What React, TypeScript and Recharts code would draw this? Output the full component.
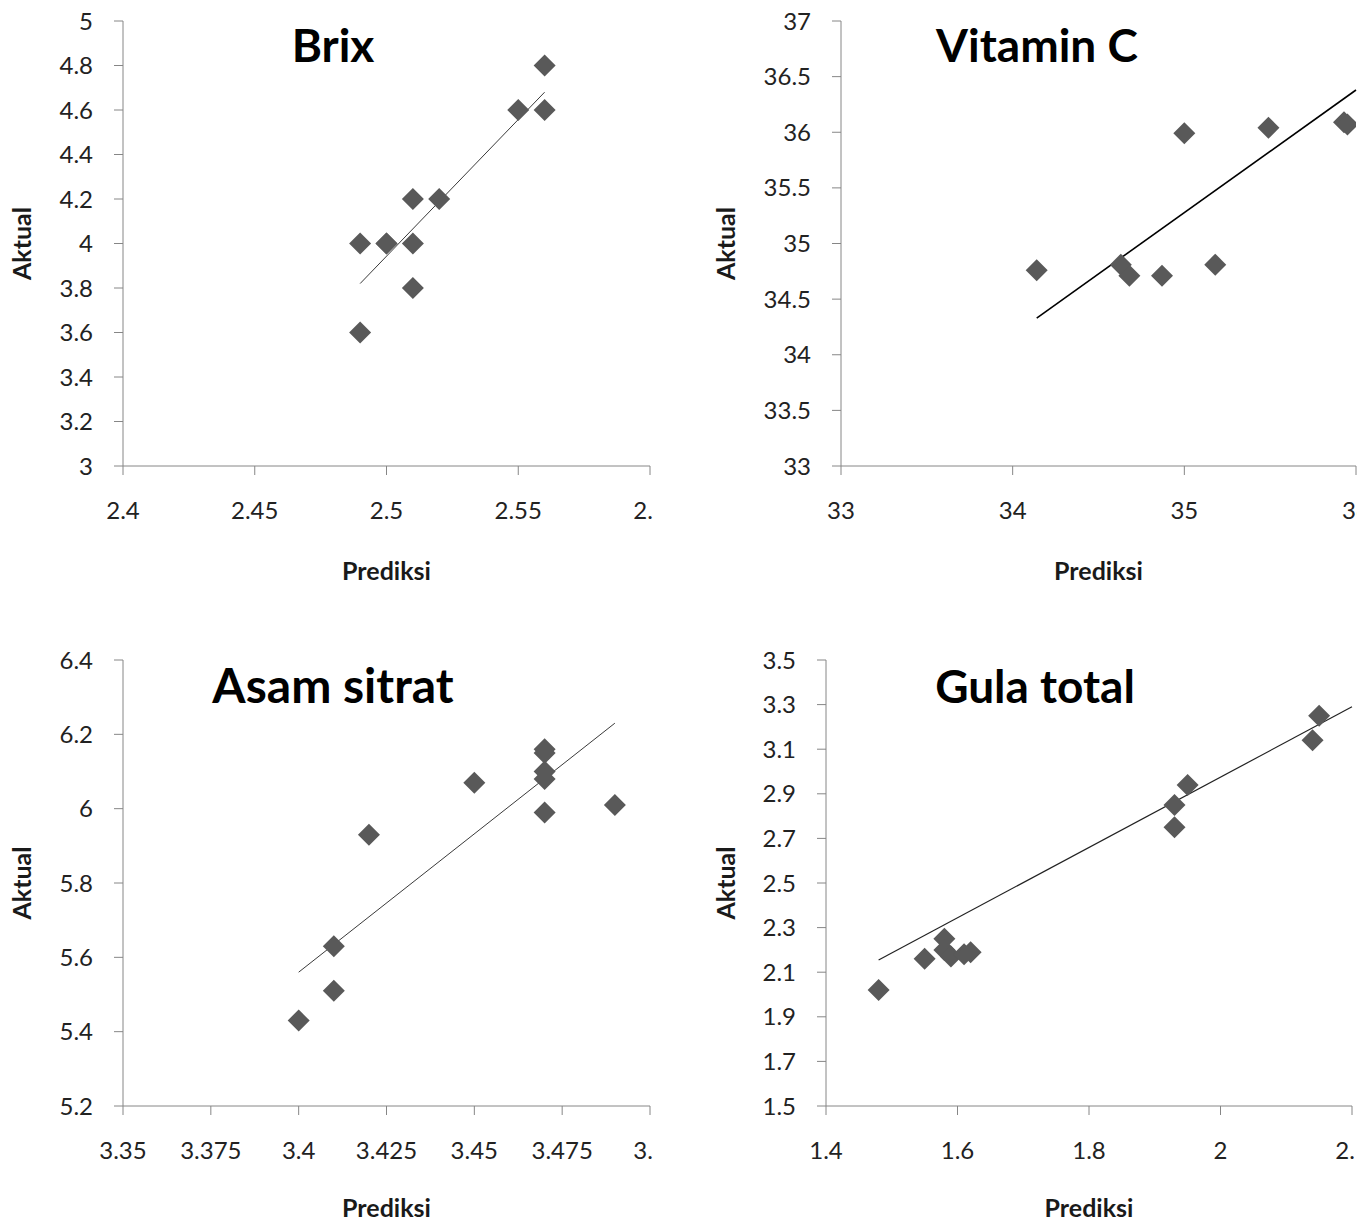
import React from "react";
import { ScatterChart, Scatter, XAxis, YAxis, ReferenceLine } from "recharts";

// Brix
const brixPred = [2.49, 2.49, 2.5, 2.5, 2.51, 2.51, 2.51, 2.52, 2.55, 2.56, 2.56];
const brixAct = [4.0, 3.6, 4.0, 4.0, 4.2, 4.0, 3.8, 4.2, 4.6, 4.8, 4.6];
const brixTrendX = [2.49, 2.56];
const brixTrendY = [3.82, 4.68];
const brixXTicks = [2.4, 2.45, 2.5, 2.55, 2.6];
const brixYTicks = [3, 3.2, 3.4, 3.6, 3.8, 4, 4.2, 4.4, 4.6, 4.8, 5];

// Vitamin C
const vitPred = [34.14, 34.63, 34.68, 34.87, 35.0, 35.18, 35.49, 35.93, 35.95];
const vitAct = [34.76, 34.81, 34.71, 34.71, 35.99, 34.81, 36.04, 36.09, 36.07];
const vitTrendX = [34.14, 36.0];
const vitTrendY = [34.33, 36.38];
const vitXTicks = [33, 34, 35, 36];
const vitYTicks = [33, 33.5, 34, 34.5, 35, 35.5, 36, 36.5, 37];

// Asam sitrat
const asamPred = [3.4, 3.41, 3.41, 3.42, 3.45, 3.47, 3.47, 3.47, 3.47, 3.47, 3.49];
const asamAct = [5.43, 5.51, 5.63, 5.93, 6.07, 6.16, 6.15, 6.1, 6.08, 5.99, 6.01];
const asamTrendX = [3.4, 3.49];
const asamTrendY = [5.56, 6.23];
const asamXTicks = [3.35, 3.375, 3.4, 3.425, 3.45, 3.475, 3.5];
const asamYTicks = [5.2, 5.4, 5.6, 5.8, 6, 6.2, 6.4];

// Gula total
const gulaPred = [1.48, 1.55, 1.58, 1.58, 1.59, 1.61, 1.62, 1.93, 1.93, 1.95, 2.14, 2.15];
const gulaAct = [2.02, 2.16, 2.25, 2.2, 2.17, 2.18, 2.19, 2.85, 2.75, 2.94, 3.14, 3.25];
const gulaTrendX = [1.48, 2.2];
const gulaTrendY = [2.155, 3.29];
const gulaXTicks = [1.4, 1.6, 1.8, 2, 2.2];
const gulaYTicks = [1.5, 1.7, 1.9, 2.1, 2.3, 2.5, 2.7, 2.9, 3.1, 3.3, 3.5];

const FONT = "Lato, 'Open Sans', sans-serif";
const AXIS = "#868686";

const Diamond = (props: any) => {
  const { cx, cy } = props;
  const r = 11;
  return (
    <path
      d={`M${cx},${cy - r}L${cx + r},${cy}L${cx},${cy + r}L${cx - r},${cy}Z`}
      fill="#595959"
    />
  );
};

type PanelProps = {
  left: number;
  top: number;
  width: number;
  height: number;
  plotHeight: number;
  yAxisWidth: number;
  right: number;
  aktualX: number;
  prediksiDy: number;
  pred: number[];
  act: number[];
  trendX: number[];
  trendY: number[];
  trendColor: string;
  trendWidth: number;
  xTicks: number[];
  yTicks: number[];
};

const Panel = (p: PanelProps) => {
  const data = p.pred.map((x, i) => ({ x, y: p.act[i] }));
  return (
    <div
      style={{
        position: "absolute",
        left: p.left,
        top: p.top,
        width: p.width,
        height: p.height,
        overflow: "hidden",
      }}
    >
      <ScatterChart
        width={p.width}
        height={p.height}
        margin={{ top: 21, right: p.right, bottom: 0, left: 0 }}
      >
        <XAxis
          type="number"
          dataKey="x"
          domain={[p.xTicks[0], p.xTicks[p.xTicks.length - 1]]}
          ticks={p.xTicks}
          interval={0}
          allowDataOverflow
          height={p.height - 21 - p.plotHeight}
          stroke={AXIS}
          tickSize={9}
          tickMargin={27}
          tick={{ fill: "#222", fontSize: 24, fontFamily: FONT }}
          label={(lp: any) => (
            <text
              x={lp.viewBox.x + lp.viewBox.width / 2}
              y={lp.viewBox.y + p.prediksiDy}
              textAnchor="middle"
              fontFamily={FONT}
              fontWeight="bold"
              fontSize={25}
              fill="#1a1a1a"
            >
              Prediksi
            </text>
          )}
        />
        <YAxis
          type="number"
          dataKey="y"
          domain={[p.yTicks[0], p.yTicks[p.yTicks.length - 1]]}
          ticks={p.yTicks}
          interval={0}
          allowDataOverflow
          width={p.yAxisWidth}
          stroke={AXIS}
          tickSize={9}
          tickMargin={21}
          tick={{ fill: "#222", fontSize: 24, fontFamily: FONT }}
          label={(lp: any) => {
            const cx = p.aktualX;
            const cy = lp.viewBox.y + lp.viewBox.height / 2;
            return (
              <text
                x={cx}
                y={cy}
                transform={`rotate(-90, ${cx}, ${cy})`}
                textAnchor="middle"
                fontFamily={FONT}
                fontWeight="bold"
                fontSize={25}
                fill="#1a1a1a"
              >
                Aktual
              </text>
            );
          }}
        />
        <Scatter data={data} shape={Diamond} fill="#595959" isAnimationActive={false} />
        <ReferenceLine
          segment={[
            { x: p.trendX[0], y: p.trendY[0] },
            { x: p.trendX[1], y: p.trendY[1] },
          ]}
          stroke={p.trendColor}
          strokeWidth={p.trendWidth}
          ifOverflow="visible"
        />
      </ScatterChart>
    </div>
  );
};

const titles = [
  { text: "Brix", x: 333, y: 62 },
  { text: "Vitamin C", x: 1037, y: 62 },
  { text: "Asam sitrat", x: 333, y: 703 },
  { text: "Gula total", x: 1035, y: 703 },
];

export default function App() {
  return (
    <div
      style={{
        position: "absolute",
        left: 0,
        top: 0,
        width: 1369,
        height: 1223,
        background: "#fff",
        overflow: "hidden",
      }}
    >
      <Panel
        left={0}
        top={0}
        width={653}
        height={600}
        plotHeight={445}
        yAxisWidth={123}
        right={3}
        aktualX={31}
        prediksiDy={114}
        pred={brixPred}
        act={brixAct}
        trendX={brixTrendX}
        trendY={brixTrendY}
        trendColor="#3a3a3a"
        trendWidth={1}
        xTicks={brixXTicks}
        yTicks={brixYTicks}
      />
      <Panel
        left={680}
        top={0}
        width={677}
        height={600}
        plotHeight={445}
        yAxisWidth={161}
        right={1}
        aktualX={55}
        prediksiDy={114}
        pred={vitPred}
        act={vitAct}
        trendX={vitTrendX}
        trendY={vitTrendY}
        trendColor="#000"
        trendWidth={1.6}
        xTicks={vitXTicks}
        yTicks={vitYTicks}
      />
      <Panel
        left={0}
        top={639}
        width={653}
        height={584}
        plotHeight={446}
        yAxisWidth={123}
        right={3}
        aktualX={31}
        prediksiDy={111}
        pred={asamPred}
        act={asamAct}
        trendX={asamTrendX}
        trendY={asamTrendY}
        trendColor="#3a3a3a"
        trendWidth={1}
        xTicks={asamXTicks}
        yTicks={asamYTicks}
      />
      <Panel
        left={680}
        top={639}
        width={674}
        height={584}
        plotHeight={446}
        yAxisWidth={146}
        right={2}
        aktualX={55}
        prediksiDy={111}
        pred={gulaPred}
        act={gulaAct}
        trendX={gulaTrendX}
        trendY={gulaTrendY}
        trendColor="#222"
        trendWidth={1.2}
        xTicks={gulaXTicks}
        yTicks={gulaYTicks}
      />
      <svg
        width={1369}
        height={1223}
        style={{ position: "absolute", left: 0, top: 0, pointerEvents: "none" }}
      >
        {titles.map((t) => (
          <text
            key={t.text}
            x={t.x}
            y={t.y}
            textAnchor="middle"
            fontFamily={FONT}
            fontWeight="bold"
            fontSize={t.text === "Asam sitrat" ? 48 : 46}
            fill="#000"
          >
            {t.text}
          </text>
        ))}
      </svg>
    </div>
  );
}
